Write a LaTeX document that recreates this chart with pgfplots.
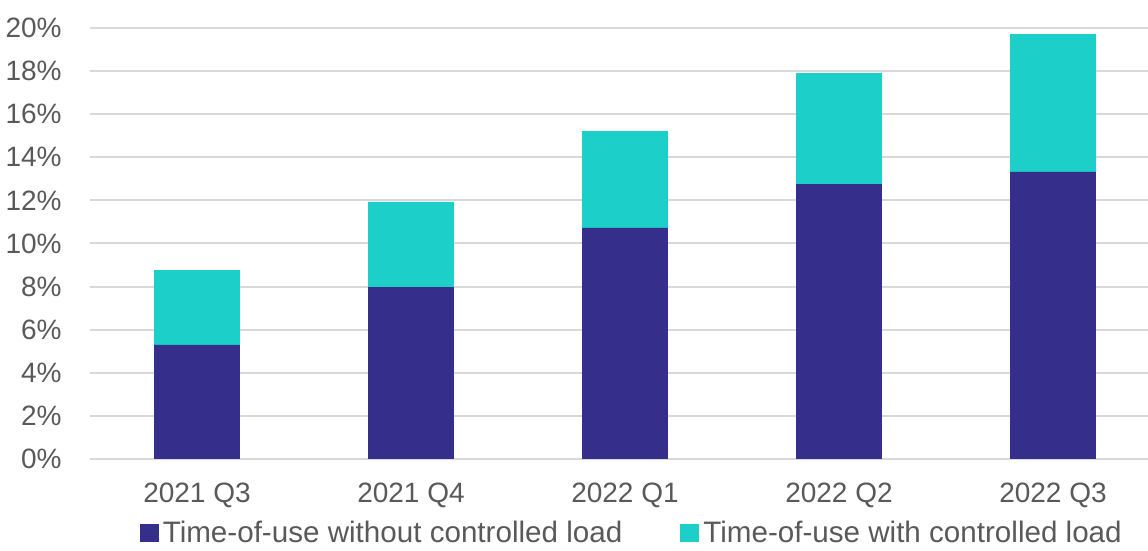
\documentclass[border=0pt]{standalone}
\usepackage{pgfplots}
\pgfplotsset{compat=1.18}
\usepackage{fontspec}
\setmainfont{Liberation Sans}
\definecolor{darkblue}{HTML}{352F8B}
\definecolor{teal1}{HTML}{1DCFC9}
\definecolor{txtgrey}{HTML}{595959}
\definecolor{gridgrey}{HTML}{D9D9D9}
\begin{document}
\begin{tikzpicture}
\begin{axis}[
  name=ax,
  scale only axis,
  width=529pt, height=215.5pt,
  ybar stacked, bar width=0.4,
  xmin=-0.5, xmax=4.444,
  ymin=0, ymax=20,
  ytick={0,2,...,20},
  xtick={0,1,2,3,4},
  xticklabels={2021 Q3,2021 Q4,2022 Q1,2022 Q2,2022 Q3},
  yticklabel={\pgfmathprintnumber{\tick}\%},
  /pgf/number format/assume math mode=true,
  major tick length=0pt,
  axis line style={draw=none},
  ymajorgrids, grid style={gridgrey, line width=1pt},
  tick label style={font=\fontsize{14}{16}\selectfont, text=txtgrey},
  yticklabel style={anchor=east, inner sep=0pt, xshift=-14pt},
  xticklabel style={anchor=north, inner sep=0pt, yshift=-12pt},
  clip=false,
  legend columns=2,
  legend style={at={(0.513,-0.172)}, anchor=center, draw=none, fill=none,
    font=\fontsize{14.8}{16}\selectfont, text=txtgrey,
    /tikz/every even column/.append style={column sep=27pt},
    inner sep=0pt},
  legend image code/.code={\fill[#1] (0pt,-4.5pt) rectangle (9.5pt,4.5pt);},
]
\addplot[fill=darkblue, draw=none] coordinates {(0,5.29) (1,7.98) (2,10.72) (3,12.76) (4,13.32)};
\addplot[fill=teal1, draw=none] coordinates {(0,3.48) (1,3.95) (2,4.50) (3,5.15) (4,6.40)};
\legend{Time-of-use without controlled load, Time-of-use with controlled load}
\end{axis}
\pgfresetboundingbox
\path (ax.north east) ++(0,14pt) coordinate (tr);
\useasboundingbox (ax.south west) ++(-45pt,-46pt) rectangle (tr);
\end{tikzpicture}
\end{document}
